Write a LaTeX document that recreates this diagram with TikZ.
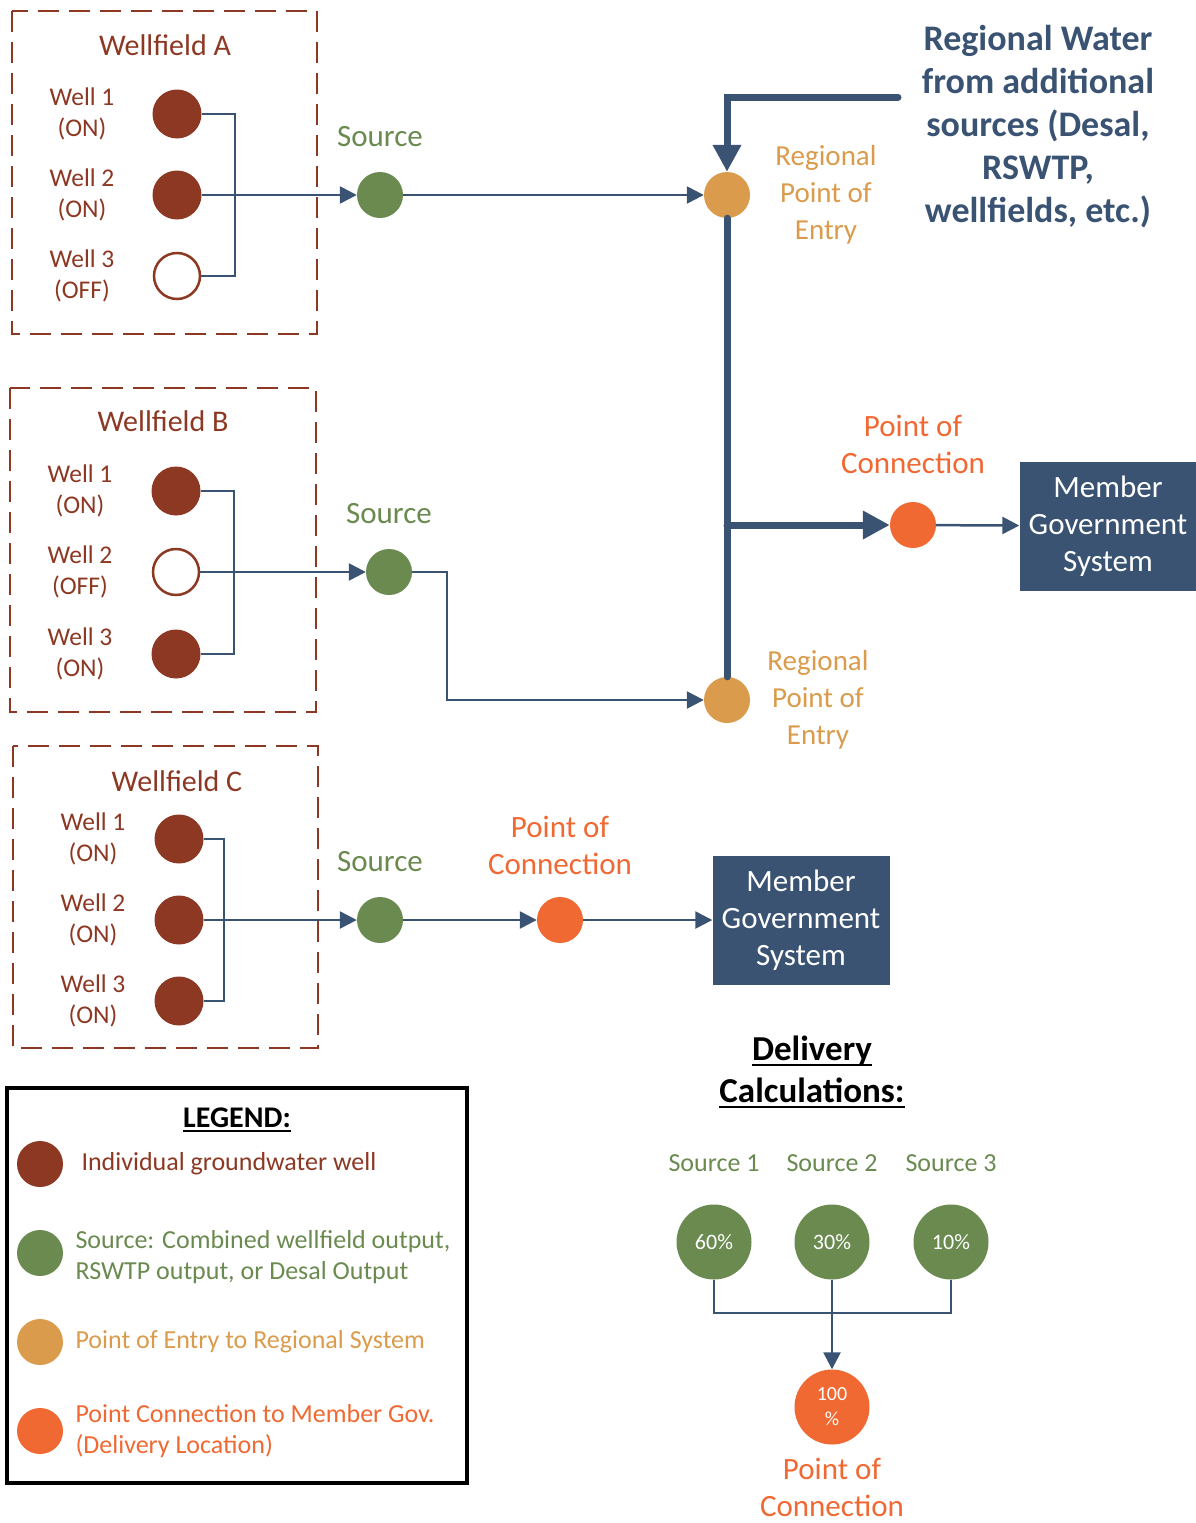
\documentclass[tikz,border=0pt]{standalone}
\usepackage{fontspec}
\setmainfont{Carlito}
\usetikzlibrary{arrows.meta}
\definecolor{wellbrown}{RGB}{140,56,35}
\definecolor{srcgreen}{RGB}{106,138,80}
\definecolor{entryorange}{RGB}{218,155,76}
\definecolor{pocred}{RGB}{240,104,50}
\definecolor{pipeblue}{RGB}{58,83,115}
\begin{document}
\begin{tikzpicture}[x=1pt, y=-1pt,
    well/.style={circle, fill=wellbrown, minimum size=49pt, inner sep=0pt},
    welloff/.style={circle, fill=white, draw=wellbrown, line width=2.5pt, minimum size=46pt, inner sep=0pt},
    dot/.style={circle, fill=#1, minimum size=46pt, inner sep=0pt},
    pct/.style={circle, fill=#1, minimum size=75pt, inner sep=0pt, text=white, align=center},
    member/.style={fill=pipeblue, text=white, align=center, font=\fontsize{31}{37}\selectfont, minimum width=177pt, minimum height=129pt, inner sep=0pt},
    field/.style={draw=wellbrown, line width=2.5pt, dash pattern=on 21pt off 10pt},
    wlabel/.style={align=center, text=wellbrown, font=\fontsize{25.5}{31}\selectfont},
    title/.style={text=wellbrown, font=\fontsize{30}{36}\selectfont},
    tag/.style={align=center, text=#1, font=\fontsize{29}{37}\selectfont},
    poctag/.style={align=center, text=pocred, font=\fontsize{31}{37}\selectfont},
    srctag/.style={text=srcgreen, font=\fontsize{31}{37}\selectfont},
    legtext/.style={anchor=west, align=left, text=#1, font=\fontsize{26}{31}\selectfont},
    heading/.style={anchor=base, inner sep=0pt, font=\bfseries\fontsize{35}{43}\selectfont},
    rule/.style={line width=2.5pt},
    pipe/.style={draw=pipeblue, line width=2.5pt},
    flow/.style={pipe, -{Triangle[length=17pt,width=17pt]}},
    trunk/.style={draw=pipeblue, line width=7pt, line cap=round},
    trunkflow/.style={trunk, -{Triangle[length=27pt,width=27pt]}},
]
    \useasboundingbox (0,0) rectangle (1196,1523) ;

    % Wellfield A
    \draw [field] (12,11) rectangle (317,334) ;
    \node [title] at (165,45) {Wellfield A} ;
    \node [well] (a1) at (177,114) {} ;
    \node [well] (a2) at (177,195) {} ;
    \node [welloff] (a3) at (177,276) {} ;
    \node [wlabel] at (82,114) {Well 1\\(ON)} ;
    \node [wlabel] at (82,195) {Well 2\\(ON)} ;
    \node [wlabel] at (82,276) {Well 3\\(OFF)} ;
    \coordinate (abus) at (235,195) ;
    \draw [pipe] (a1.east) -| (abus) |- (a3.east) ;
    \node [dot=srcgreen] (srcA) at (380,195) {} ;
    \node [srctag] at (380,137) {Source} ;
    \draw [flow] (a2.east) -- (srcA) ;
    \node [dot=entryorange] (entA) at (727,195) {} ;
    \node [tag=entryorange] at (826,195) {Regional\\Point of\\Entry} ;
    \draw [flow] (srcA) -- (entA) ;

    % regional supply
    \node [align=center, text=pipeblue, font=\bfseries\fontsize{36}{43}\selectfont] at (1038,127)
        {Regional Water\\from additional\\sources (Desal,\\RSWTP,\\wellfields, etc.)} ;
    \coordinate (regin) at (898,97) ;
    \draw [trunkflow] (regin) -| (entA) ;

    % Wellfield B
    \draw [field] (10,388) rectangle (316,712) ;
    \node [title] at (163,421) {Wellfield B} ;
    \node [well] (b1) at (176,491) {} ;
    \node [welloff] (b2) at (176,572) {} ;
    \node [well] (b3) at (176,654) {} ;
    \node [wlabel] at (80,491) {Well 1\\(ON)} ;
    \node [wlabel] at (80,572) {Well 2\\(OFF)} ;
    \node [wlabel] at (80,654) {Well 3\\(ON)} ;
    \coordinate (bbus) at (234,572) ;
    \draw [pipe] (b1.east) -| (bbus) |- (b3.east) ;
    \node [dot=srcgreen] (srcB) at (389,572) {} ;
    \node [srctag] at (389,514) {Source} ;
    \draw [flow] (b2.east) -- (srcB) ;
    \node [dot=entryorange] (entB) at (727,700) {} ;
    \node [tag=entryorange] at (818,700) {Regional\\Point of\\Entry} ;
    \coordinate (bturn) at (447,700) ;
    \draw [flow] (srcB) -| (bturn) -- (entB) ;

    % trunk main and connection
    \draw [trunk] (entA) -- (entB) ;
    \node [dot=pocred] (pocA) at (913,525) {} ;
    \node [poctag] at (913,444) {Point of\\Connection} ;
    \coordinate (brA) at (727,525) ;
    \draw [trunkflow] (brA) -- (pocA) ;
    \node [member] (memA) at (1108,526) {Member\\Government\\System} ;
    \draw [flow] (pocA) -- (memA) ;

    % Wellfield C
    \draw [field] (13,746) rectangle (318,1048) ;
    \node [title] at (177,781) {Wellfield C} ;
    \node [well] (c1) at (179,839) {} ;
    \node [well] (c2) at (179,920) {} ;
    \node [well] (c3) at (179,1001) {} ;
    \node [wlabel] at (93,839) {Well 1\\(ON)} ;
    \node [wlabel] at (93,920) {Well 2\\(ON)} ;
    \node [wlabel] at (93,1001) {Well 3\\(ON)} ;
    \coordinate (cbus) at (224,920) ;
    \draw [pipe] (c1.east) -| (cbus) |- (c3.east) ;
    \node [dot=srcgreen] (srcC) at (380,920) {} ;
    \node [srctag] at (380,862) {Source} ;
    \draw [flow] (c2.east) -- (srcC) ;
    \node [dot=pocred] (pocC) at (560,920) {} ;
    \node [poctag] at (560,845) {Point of\\Connection} ;
    \draw [flow] (srcC) -- (pocC) ;
    \node [member] (memC) at (801,920) {Member\\Government\\System} ;
    \draw [flow] (pocC) -- (memC) ;

    % delivery calculations
    \node [heading] (delA) at (812,1060) {Delivery} ;
    \node [heading] (delB) at (812,1102) {Calculations:} ;
    \draw [rule] ([yshift=-5pt]delA.base west) -- ([yshift=-5pt]delA.base east) ;
    \draw [rule] ([yshift=-5pt]delB.base west) -- ([yshift=-5pt]delB.base east) ;
    \node [tag=srcgreen, font=\fontsize{26}{31}\selectfont] at (714,1163) {Source 1} ;
    \node [tag=srcgreen, font=\fontsize{26}{31}\selectfont] at (832,1163) {Source 2} ;
    \node [tag=srcgreen, font=\fontsize{26}{31}\selectfont] at (951,1163) {Source 3} ;
    \node [pct=srcgreen, font=\fontsize{22}{26}\selectfont] (d1) at (714,1242) {60\%} ;
    \node [pct=srcgreen, font=\fontsize{22}{26}\selectfont] (d2) at (832,1242) {30\%} ;
    \node [pct=srcgreen, font=\fontsize{22}{26}\selectfont] (d3) at (951,1242) {10\%} ;
    \node [pct=pocred, font=\fontsize{20}{25}\selectfont] (dtot) at (832,1407) {100\\\%} ;
    \coordinate (dbar) at (832,1313) ;
    \draw [pipe] (d1) |- (dbar) -| (d3) ;
    \draw [flow] (d2) -- (dtot) ;
    \node [poctag] at (832,1487) {Point of\\Connection} ;

    % legend
    \draw [line width=4pt] (7,1088) rectangle (467,1483) ;
    \node [heading, font=\bfseries\fontsize{30}{36}\selectfont] (leg) at (237,1127) {LEGEND:} ;
    \draw [rule] ([yshift=-4pt]leg.base west) -- ([yshift=-4pt]leg.base east) ;
    \node [dot=wellbrown] (lg1) at (40,1164) {} ;
    \node [dot=srcgreen] (lg2) at (40,1253) {} ;
    \node [dot=entryorange] (lg3) at (40,1342) {} ;
    \node [dot=pocred] (lg4) at (40,1431) {} ;
    \node [legtext=wellbrown] at (78,1164) {Individual groundwater well} ;
    \node [legtext=srcgreen] at (72,1257) {Source: Combined wellfield output,\\RSWTP output, or Desal Output} ;
    \node [legtext=entryorange] at (72,1342) {Point of Entry to Regional System} ;
    \node [legtext=pocred] at (72,1431) {Point Connection to Member Gov.\\(Delivery Location)} ;
\end{tikzpicture}
\end{document}
